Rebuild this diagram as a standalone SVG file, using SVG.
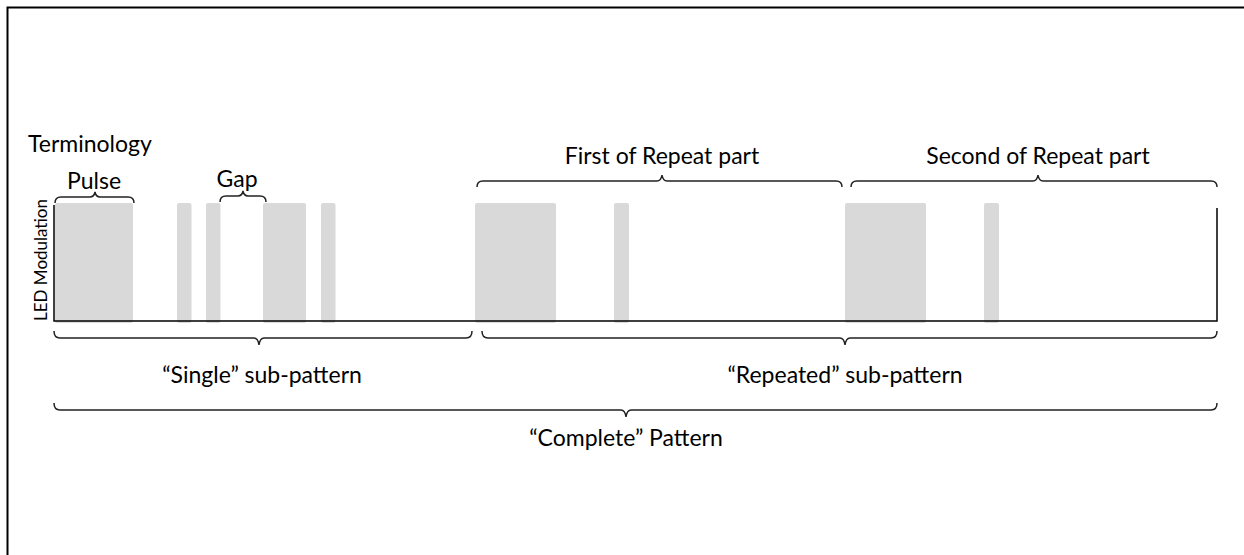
<svg xmlns="http://www.w3.org/2000/svg" width="1244" height="555" viewBox="0 0 1244 555">
<style>
.t{font-family:Lato,"Liberation Sans",sans-serif;fill:#000;font-size:23px;}
.pulse{fill:#d9d9d9;}
.brace{fill:none;stroke:#222;stroke-width:1.5;}
.axis{fill:none;stroke:#000;stroke-width:1.5;}
</style>
<rect x="0" y="0" width="1244" height="555" fill="#fff"/>
<path d="M7.5 560 V7.5 H1250" fill="none" stroke="#000" stroke-width="2"/>
<text class="t" x="28" y="152">Terminology</text>
<g id="pulses">
<rect class="pulse" x="55" y="203" width="78" height="120" rx="2"/>
<rect class="pulse" x="177" y="203" width="14.5" height="120" rx="2"/>
<rect class="pulse" x="206" y="203" width="14.5" height="120" rx="2"/>
<rect class="pulse" x="263" y="203" width="43" height="120" rx="2"/>
<rect class="pulse" x="321" y="203" width="14.5" height="120" rx="2"/>
<rect class="pulse" x="475" y="203" width="81" height="120" rx="2"/>
<rect class="pulse" x="614" y="203" width="15" height="120" rx="2"/>
<rect class="pulse" x="845" y="203" width="81" height="120" rx="2"/>
<rect class="pulse" x="984" y="203" width="15" height="120" rx="2"/>
</g>
<g id="axis">
<path class="axis" d="M54 205 V321 H1217 V208"/>
<text class="t" style="font-size:17px" transform="translate(47 260) rotate(-90)" text-anchor="middle">LED Modulation</text>
</g>
<g id="connectors">
<path class="brace" d="M55 203 Q55 197 61 197 H90 Q94 197 95 192 Q96 197 100 197 H128 Q134 197 134 203"/>
<path class="brace" d="M220 202 Q220 196 226 196 H238 Q242 196 243 191 Q244 196 248 196 H260 Q266 196 266 202"/>
<path class="brace" d="M477 187 Q477 181 483 181 H657 Q661 181 662 175 Q663 181 667 181 H836 Q842 181 842 187"/>
<path class="brace" d="M851 187 Q851 181 857 181 H1033 Q1037 181 1038 175 Q1039 181 1043 181 H1211 Q1217 181 1217 187"/>
<path class="brace" d="M54 331 Q54 338 60 338 H254 Q258 338 259 345 Q260 338 264 338 H466 Q472 338 472 331"/>
<path class="brace" d="M482 331 Q482 338 488 338 H840 Q844 338 845 345 Q846 338 850 338 H1211 Q1217 338 1217 331"/>
<path class="brace" d="M54 403 Q54 410 60 410 H621 Q625 410 626 417 Q627 410 631 410 H1211 Q1217 410 1217 403"/>
</g>
<g id="labels">
<text class="t" x="94" y="189" text-anchor="middle">Pulse</text>
<text class="t" x="237" y="187" text-anchor="middle">Gap</text>
<text class="t" x="662" y="164" text-anchor="middle">First of Repeat part</text>
<text class="t" x="1038" y="164" text-anchor="middle">Second of Repeat part</text>
<text class="t" x="262" y="383" text-anchor="middle">“Single” sub-pattern</text>
<text class="t" x="845" y="383" text-anchor="middle">“Repeated” sub-pattern</text>
<text class="t" x="626" y="446" text-anchor="middle">“Complete” Pattern</text>
</g>
</svg>
